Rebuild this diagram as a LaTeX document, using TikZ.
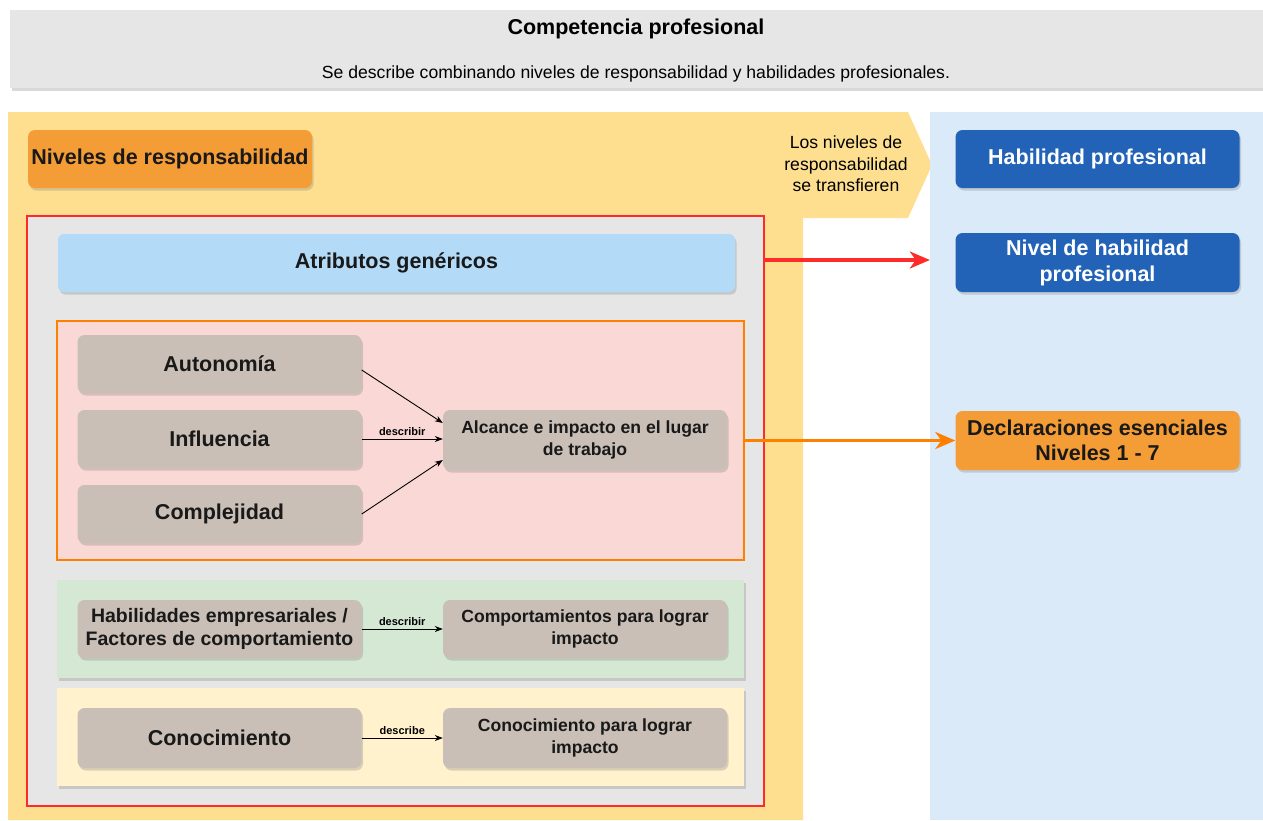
\documentclass[tikz,border=0pt]{standalone}
\usepackage{fontspec}
\setmainfont{Liberation Sans}
\usetikzlibrary{arrows.meta,shadows}
\definecolor{grisfondo}{HTML}{E6E6E6}
\definecolor{amarillo}{HTML}{FDDF8F}
\definecolor{celeste}{HTML}{DAEAF8}
\definecolor{naranja}{HTML}{F49D37}
\definecolor{rojo}{HTML}{FF2A2A}
\definecolor{azulclaro}{HTML}{B3DAF7}
\definecolor{rosa}{HTML}{FAD8D5}
\definecolor{naranjaborde}{HTML}{FF8000}
\definecolor{taupe}{HTML}{C9BFB6}
\definecolor{verde}{HTML}{D5E8D4}
\definecolor{crema}{HTML}{FFF2CC}
\definecolor{azul}{HTML}{2263B8}
\tikzset{sombra/.style={drop shadow={opacity=0.3,shadow xshift=1.5pt,shadow yshift=-2.5pt}},
    panel/.style={rectangle,inner sep=0pt},
    caja/.style={rectangle,rounded corners=7pt,align=center,inner sep=2pt,
        minimum width=284pt,minimum height=58pt,text=black!90,sombra},
    cajagris/.style={caja,fill=taupe,font=\bfseries\fontsize{21.5}{25}\selectfont},
    cajachica/.style={caja,fill=taupe,font=\bfseries\fontsize{17.6}{22}\selectfont},
    cajaazul/.style={caja,fill=azul,text=white,font=\bfseries\fontsize{21.5}{26}\selectfont},
    flecha/.style={-{Stealth[length=8pt,width=6pt]},line width=0.9pt},
    flechagruesa/.style={-{Stealth[length=20pt,width=17pt,inset=6pt]},line width=3.2pt},
    etiqueta/.style={font=\bfseries\fontsize{11}{13}\selectfont,inner sep=3pt},
    }
\begin{document}
\begin{tikzpicture}[x=1pt,y=-1pt]
	\useasboundingbox (0,0) rectangle (1263,820);
	% encabezado
	\node[panel,fill=grisfondo,minimum width=1253pt,minimum height=78pt,sombra] (competencia) at (636.5,49) {};
	\node[font=\bfseries\fontsize{21.5}{25}\selectfont] (titulo) at (636,29) {Competencia profesional};
	\node[font=\fontsize{17.6}{21}\selectfont] (subtitulo) at (636,74)
		{Se describe combinando niveles de responsabilidad y habilidades profesionales.};
	% fondos
	\fill[amarillo] (8,112) -- (908,112) -- (932,165) -- (908,218) -- (803,218)
		-- (803,820) -- (8,820) -- cycle;
	\node[panel,fill=celeste,minimum width=333pt,minimum height=708pt] (fondohab) at (1096.5,466) {};
	\node[align=center,font=\fontsize{17.6}{21.5}\selectfont] (transfieren) at (846,164)
		{Los niveles de\\responsabilidad\\se transfieren};
	\node[caja,fill=naranja,font=\bfseries\fontsize{21.5}{25}\selectfont] (nivresp) at (170,159)
		{Niveles de responsabilidad};
	% atributos genericos
	\node[panel,fill=grisfondo,draw=rojo,line width=2pt,minimum width=737pt,minimum height=590pt] (genericos) at (395.5,511) {};
	\node[caja,fill=azulclaro,rounded corners=6pt,minimum width=677pt,font=\bfseries\fontsize{21.5}{25}\selectfont] (atrib) at (396.5,263)
		{Atributos genéricos};
	\node[panel,fill=rosa,draw=naranjaborde,line width=2pt,minimum width=687pt,minimum height=239pt] (alcancebg) at (400.5,440.5) {};
	\node[panel,fill=verde,minimum width=687pt,minimum height=98pt,sombra] (comportbg) at (400.5,629) {};
	\node[panel,fill=crema,minimum width=687pt,minimum height=98pt,sombra] (conocbg) at (400.5,737) {};
	% cajas
	\node[cajagris] (autonomia) at (219.5,364) {Autonomía};
	\node[cajagris] (influencia) at (219.5,439) {Influencia};
	\node[cajagris] (complejidad) at (219.5,514) {Complejidad};
	\node[cajachica,minimum height=60pt] (alcance) at (585,440) {Alcance e impacto en el lugar\\de trabajo};
	\node[caja,fill=taupe,font=\bfseries\fontsize{19.5}{23}\selectfont] (habemp) at (219.5,629)
		{Habilidades empresariales /\\Factores de comportamiento};
	\node[cajachica] (comport) at (585,629) {Comportamientos para lograr\\impacto};
	\node[cajagris,minimum height=60pt] (conoc) at (219.5,738) {Conocimiento};
	\node[cajachica,minimum height=60pt] (conocimp) at (585,738) {Conocimiento para lograr\\impacto};
	% habilidad profesional
	\node[cajaazul] (habprof) at (1097.5,159) {Habilidad profesional};
	\node[cajaazul,minimum height=59pt] (nivelhab) at (1097.5,262.5) {Nivel de habilidad\\profesional};
	\node[caja,fill=naranja,minimum height=59pt,font=\bfseries\fontsize{21.5}{25}\selectfont] (declar) at (1097.5,440.5)
		{Declaraciones esenciales\\Niveles 1 - 7};
	% flechas
	\draw[flecha] ([yshift=-6pt]autonomia.east) -- ([yshift=17pt]alcance.west);
	\draw[flecha] (influencia.east) -- node[etiqueta,above] {describir} (influencia.east -| alcance.west);
	\draw[flecha] (complejidad.east) -- ([yshift=-20pt]alcance.west);
	\draw[flecha] (habemp.east) -- node[etiqueta,above] {describir} (comport.west);
	\draw[flecha] (conoc.east) -- node[etiqueta,above] {describe} (conocimp.west);
	\draw[flechagruesa,rojo] (genericos.east |- 0,260) -- (fondohab.west |- 0,260);
	\draw[flechagruesa,naranjaborde] (alcancebg.east) -- (declar.west);
\end{tikzpicture}
\end{document}
